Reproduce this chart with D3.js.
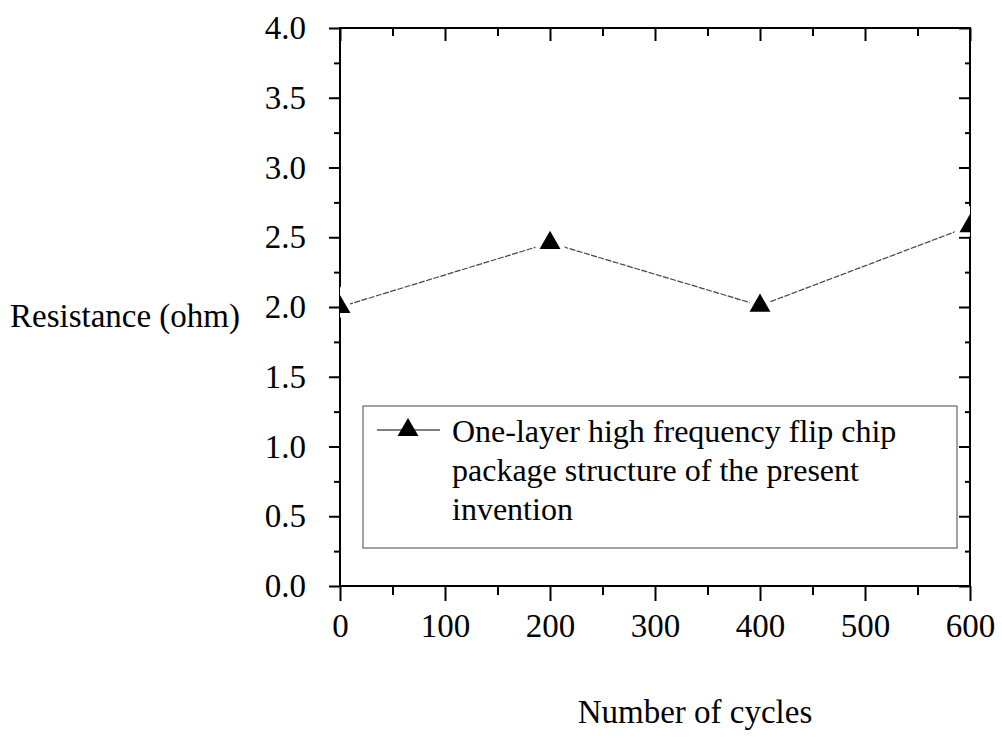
<!DOCTYPE html>
<html><head><meta charset="utf-8">
<script src="https://cdn.jsdelivr.net/npm/d3@7"></script>
<style>body{margin:0;background:#fff}svg{display:block}text{font-family:"Liberation Serif","Times New Roman",serif;fill:#000}</style>
</head><body>
<svg id="c" width="1002" height="738"></svg>
<script>
const cycles = [0, 200, 400, 600];
const resistance = [2.0, 2.46, 2.01, 2.58];
const xMajorTicks = [0, 100, 200, 300, 400, 500, 600];
const xMinorTicks = [50, 150, 250, 350, 450, 550];
const yMajorTicks = [0, 0.5, 1.0, 1.5, 2.0, 2.5, 3.0, 3.5, 4.0];
const yMinorTicks = [0.25, 0.75, 1.25, 1.75, 2.25, 2.75, 3.25, 3.75];
const seriesName = ["One-layer high frequency flip chip", "package structure of the present", "invention"];
const xTitle = "Number of cycles";
const yTitle = "Resistance (ohm)";

const svg = d3.select("#c");
const L = 340, R = 970, T = 28, B = 586;
const x = d3.scaleLinear().domain([0, 600]).range([L, R]);
const y = d3.scaleLinear().domain([0, 4]).range([B, T]);
const FS = 33;

function styleAxis(g){ g.select(".domain").remove(); g.selectAll("line").attr("stroke","#000").attr("stroke-width",2); g.selectAll("text").style("font-size",FS+"px").style("font-family","Liberation Serif"); }

// left axis (outward)
svg.append("g").attr("transform",`translate(${L},0)`)
  .call(d3.axisLeft(y).tickValues(yMajorTicks).tickSize(11).tickPadding(23).tickFormat(d3.format(".1f"))).call(styleAxis);
svg.append("g").attr("transform",`translate(${L},0)`)
  .call(d3.axisLeft(y).tickValues(yMinorTicks).tickSize(6).tickFormat("")).call(styleAxis);
// right axis (inward)
svg.append("g").attr("transform",`translate(${R},0)`)
  .call(d3.axisLeft(y).tickValues(yMajorTicks).tickSize(11).tickFormat("")).call(styleAxis);
svg.append("g").attr("transform",`translate(${R},0)`)
  .call(d3.axisLeft(y).tickValues(yMinorTicks).tickSize(5).tickFormat("")).call(styleAxis);
// bottom axis (outward)
svg.append("g").attr("transform",`translate(0,${B})`)
  .call(d3.axisBottom(x).tickValues(xMajorTicks).tickSize(15).tickPadding(13).tickFormat(d3.format("d"))).call(styleAxis);
svg.append("g").attr("transform",`translate(0,${B})`)
  .call(d3.axisBottom(x).tickValues(xMinorTicks).tickSize(9).tickFormat("")).call(styleAxis);
// top axis (inward)
svg.append("g").attr("transform",`translate(0,${T})`)
  .call(d3.axisTop(x).tickValues(xMajorTicks).tickSize(-13).tickFormat("")).call(styleAxis);
svg.append("g").attr("transform",`translate(0,${T})`)
  .call(d3.axisTop(x).tickValues(xMinorTicks).tickSize(-8).tickFormat("")).call(styleAxis);

// frame
svg.append("rect").attr("x",L).attr("y",T).attr("width",R-L).attr("height",B-T)
  .attr("fill","none").attr("stroke","#000").attr("stroke-width",2);

// clip
svg.append("clipPath").attr("id","clip").append("rect").attr("x",L).attr("y",T).attr("width",R-L).attr("height",B-T);

const data = cycles.map((c,i)=>({c, r: resistance[i]}));
const plot = svg.append("g").attr("clip-path","url(#clip)");
plot.append("path").datum(data)
  .attr("d", d3.line().x(d=>x(d.c)).y(d=>y(d.r)))
  .attr("fill","none").attr("stroke","#444").attr("stroke-width",1.2).attr("stroke-dasharray","6,1.5");
const triBig = d3.symbol().type(d3.symbolTriangle).size(560);
const tri = d3.symbol().type(d3.symbolTriangle).size(190);
plot.selectAll(".tw").data(data).join("path").attr("transform",d=>`translate(${x(d.c)},${y(d.r)})`).attr("d",triBig).attr("fill","#fff");
plot.selectAll(".tb").data(data).join("path").attr("transform",d=>`translate(${x(d.c)},${y(d.r)})`).attr("d",tri).attr("fill","#000");

// legend
const lg = svg.append("g");
lg.append("rect").attr("x",363).attr("y",406).attr("width",594).attr("height",142)
  .attr("fill","#fff").attr("stroke","#666").attr("stroke-width",1.2);
lg.append("line").attr("x1",377).attr("x2",440).attr("y1",430).attr("y2",430).attr("stroke","#000").attr("stroke-width",1);
lg.append("path").attr("transform","translate(408,430)").attr("d",tri).attr("fill","#000");
lg.selectAll("text.l").data(seriesName).join("text").attr("class","l")
  .attr("x",452).attr("y",(d,i)=>442+i*39).style("font-size","32px").text(d=>d);

// titles
svg.append("text").attr("x",240).attr("y",327).attr("text-anchor","end").style("font-size",FS+"px").text(yTitle);
svg.append("text").attr("x",695).attr("y",723).attr("text-anchor","middle").style("font-size",FS+"px").text(xTitle);
</script>
</body></html>
